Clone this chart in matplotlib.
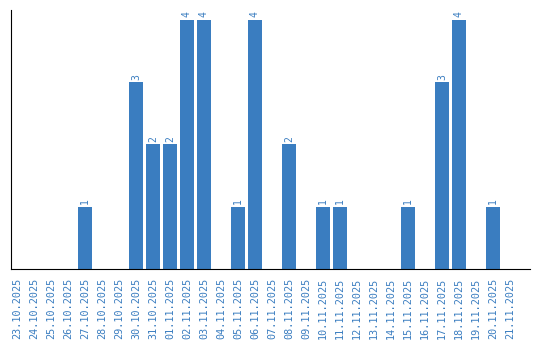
import matplotlib
matplotlib.use("Agg")
import matplotlib.pyplot as plt

dates = ["23.10.2025", "24.10.2025", "25.10.2025", "26.10.2025", "27.10.2025",
         "28.10.2025", "29.10.2025", "30.10.2025", "31.10.2025", "01.11.2025",
         "02.11.2025", "03.11.2025", "04.11.2025", "05.11.2025", "06.11.2025",
         "07.11.2025", "08.11.2025", "09.11.2025", "10.11.2025", "11.11.2025",
         "12.11.2025", "13.11.2025", "14.11.2025", "15.11.2025", "16.11.2025",
         "17.11.2025", "18.11.2025", "19.11.2025", "20.11.2025", "21.11.2025"]
counts = [0, 0, 0, 0, 1, 0, 0, 3, 2, 2, 4, 4, 0, 1, 4, 0, 2, 0, 1, 1,
          0, 0, 0, 1, 0, 3, 4, 0, 1, 0]

color = "#3a7dc0"
fig = plt.figure(figsize=(5.4, 3.4), dpi=100)
ax = fig.add_axes([11/540, 1 - 269/340, (530 - 11)/540, (269 - 10)/340])
x = list(range(len(dates)))
ax.bar(x, counts, width=0.82, color=color)
for xi, v in zip(x, counts):
    if v > 0:
        ax.text(xi, v + 0.04, str(v), rotation=90, ha="center", va="bottom",
                color=color, fontsize=7, family="DejaVu Sans Mono")
ax.set_xlim(-0.35, 29 + 20/17)
ax.set_ylim(0, 4.16)
ax.set_xticks(x)
ax.set_xticklabels(dates, rotation=90, color=color, fontsize=7.3, family="DejaVu Sans Mono")
ax.tick_params(axis="x", length=0, pad=6)
ax.set_yticks([])
ax.spines["top"].set_visible(False)
ax.spines["right"].set_visible(False)
ax.spines["left"].set_color("black")
ax.spines["bottom"].set_color("black")
fig.savefig("out.png", dpi=100)
